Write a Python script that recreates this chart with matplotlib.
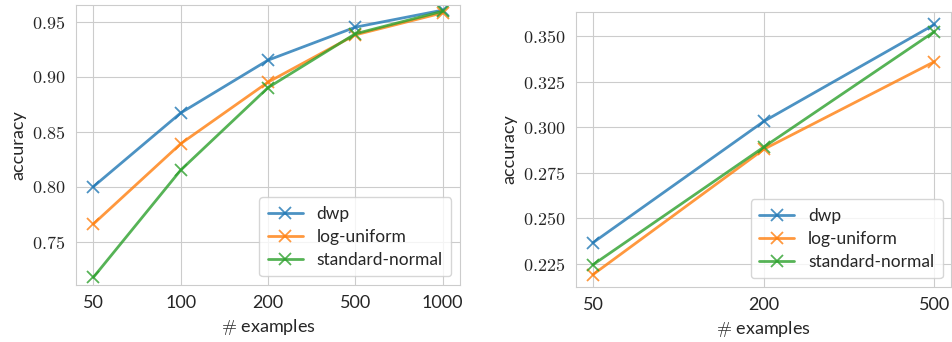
import matplotlib
matplotlib.use("Agg")
import matplotlib.pyplot as plt
import seaborn as sns
from matplotlib.ticker import FuncFormatter

# left panel
examples_a = ["50", "100", "200", "500", "1000"]
dwp_a = [0.800, 0.867, 0.915, 0.945, 0.9605]
logu_a = [0.766, 0.839, 0.895, 0.938, 0.958]
stdn_a = [0.7175, 0.815, 0.890, 0.939, 0.9595]

# right panel
examples_b = ["50", "200", "500"]
dwp_b = [0.2367, 0.3032, 0.3564]
logu_b = [0.2192, 0.2879, 0.3360]
stdn_b = [0.2246, 0.2891, 0.3525]

series_names = ["dwp", "log-uniform", "standard-normal"]
colors = ["tab:blue", "tab:orange", "tab:green"]

sns.set_style("whitegrid")
plt.rcParams["font.family"] = ["Lato", "DejaVu Sans"]
plt.rcParams["mathtext.fontset"] = "cm"

fig = plt.figure(figsize=(9.53, 3.42), dpi=100)
ax1 = fig.add_axes([0.0797, 0.1667, 0.4030, 0.8187])
ax2 = fig.add_axes([0.6044, 0.1608, 0.3940, 0.8042])


def draw(ax, xs, ys_list, fmt):
    for ys, name, c in zip(ys_list, series_names, colors):
        ax.plot(xs, ys, marker="x", markersize=9, markeredgewidth=1.3,
                linewidth=2, color=c, alpha=0.8, label=name)
    ax.set_xlabel(r"$\#$ examples", fontsize=13)
    ax.set_ylabel("accuracy", fontsize=13)
    ax.yaxis.set_major_formatter(FuncFormatter(lambda v, p: "$" + fmt.format(v) + "$"))
    ax.tick_params(axis="both", labelsize=13, pad=4)
    ax.legend(loc="lower right", fontsize=12.5, framealpha=0.8,
              handlelength=2.0, borderpad=0.5, labelspacing=0.4)
    for sp in ax.spines.values():
        sp.set_color("#cccccc")


draw(ax1, examples_a, [dwp_a, logu_a, stdn_a], "{:.2f}")
ax1.set_ylim(0.7105, 0.9652)
ax1.set_yticks([0.75, 0.80, 0.85, 0.90, 0.95])

draw(ax2, examples_b, [dwp_b, logu_b, stdn_b], "{:.3f}")
ax2.set_yticks([0.225, 0.250, 0.275, 0.300, 0.325, 0.350])

fig.savefig("out.png", dpi=100)
